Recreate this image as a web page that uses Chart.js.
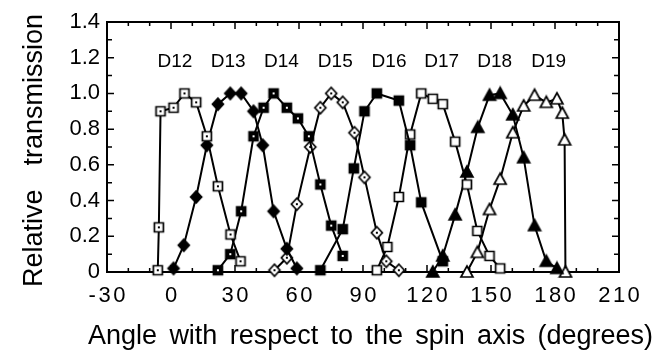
<!DOCTYPE html>
<html>
<head>
<meta charset="utf-8">
<script src="https://cdn.jsdelivr.net/npm/chart.js@4/dist/chart.umd.min.js"></script>
<style>
  html, body { margin: 0; padding: 0; background: #fff; }
</style>
</head>
<body>
<canvas id="spin" width="659" height="359"></canvas>
<script>
  // Angles (degrees) and relative transmission for each detector
  const d12Angle = [-6.2, -5.7, -4.9, 1.2, 6.3, 11.8, 16.8, 22.0, 27.9, 32.6];
  const d12Trans = [0.01, 0.25, 0.90, 0.92, 1.00, 0.95, 0.76, 0.48, 0.21, 0.06];

  const d13Angle = [1.2, 6.0, 11.8, 16.8, 22.0, 27.8, 32.9, 38.7, 43.0, 48.1, 54.3, 59.0];
  const d13Trans = [0.02, 0.15, 0.42, 0.71, 0.94, 1.00, 1.00, 0.90, 0.71, 0.34, 0.13, 0.02];

  const d14Angle = [22.0, 27.8, 32.9, 38.7, 43.4, 48.1, 54.3, 59.5, 64.6, 70.0, 75.1, 80.5];
  const d14Trans = [0.01, 0.10, 0.34, 0.76, 0.92, 1.00, 0.92, 0.86, 0.76, 0.49, 0.26, 0.09];

  const d15Angle = [48.5, 54.3, 59.0, 65.3, 70.0, 75.1, 80.5, 86.0, 90.7, 96.5, 100.9, 106.8];
  const d15Trans = [0.01, 0.08, 0.38, 0.70, 0.92, 1.00, 0.95, 0.78, 0.53, 0.22, 0.06, 0.01];

  const d16Angle = [70.0, 80.5, 85.7, 90.7, 96.5, 106.8, 112.1, 117.3, 127.4];
  const d16Trans = [0.01, 0.24, 0.58, 0.90, 1.00, 0.96, 0.71, 0.39, 0.06];

  const d17Angle = [96.5, 101.4, 106.8, 112.1, 117.3, 122.7, 127.4, 133.2, 138.7, 143.6, 149.3, 154.3];
  const d17Trans = [0.01, 0.14, 0.42, 0.77, 1.00, 0.97, 0.94, 0.73, 0.49, 0.23, 0.09, 0.02];

  const d18Angle = [122.7, 127.4, 133.2, 138.7, 143.8, 149.3, 154.3, 160.2, 165.3, 170.4, 175.9, 180.9];
  const d18Trans = [0.00, 0.09, 0.32, 0.56, 0.81, 0.99, 1.00, 0.88, 0.64, 0.26, 0.06, 0.02];

  const d19Angle = [138.7, 143.6, 149.3, 154.3, 160.2, 165.3, 170.4, 175.9, 180.9, 183.4, 184.5, 184.9];
  const d19Trans = [0.00, 0.11, 0.35, 0.52, 0.78, 0.93, 0.99, 0.95, 0.97, 0.89, 0.74, 0.00];

  const detectorNames = ['D12', 'D13', 'D14', 'D15', 'D16', 'D17', 'D18', 'D19'];
  const labelAngle = [1.8, 26.8, 51.8, 77.0, 102.2, 126.9, 151.7, 177.0];
  const labelLevel = 1.18;

  const xTickLabels = [-30, 0, 30, 60, 90, 120, 150, 180, 210];

  // small canvases used as point markers
  function marker(shape, fill, dot) {
    const s = 16, c = document.createElement('canvas');
    c.width = s; c.height = s;
    const g = c.getContext('2d');
    const m = s / 2;
    g.beginPath();
    if (shape === 'square') {
      g.rect(m - 4.5, m - 4.5, 9, 9);
    } else if (shape === 'diamond') {
      g.moveTo(m, m - 6); g.lineTo(m + 5.5, m); g.lineTo(m, m + 6); g.lineTo(m - 5.5, m); g.closePath();
    } else {
      g.moveTo(m, m - 6); g.lineTo(m + 6, m + 5); g.lineTo(m - 6, m + 5); g.closePath();
    }
    g.fillStyle = fill;
    g.fill();
    g.lineWidth = 1.7;
    g.strokeStyle = '#000';
    g.stroke();
    if (dot) {
      g.fillStyle = dot;
      g.fillRect(m - 1, m - 1, 2, 2);
    }
    return c;
  }

  const markers = [
    marker('square', '#fff', '#000'),   // D12
    marker('diamond', '#000'),          // D13
    marker('square', '#000', '#fff'),   // D14
    marker('diamond', '#fff', '#000'),  // D15
    marker('square', '#000'),           // D16
    marker('square', '#fff'),           // D17
    marker('triangle', '#000'),         // D18
    marker('triangle', '#fff')          // D19
  ];

  const angles = [d12Angle, d13Angle, d14Angle, d15Angle, d16Angle, d17Angle, d18Angle, d19Angle];
  const trans = [d12Trans, d13Trans, d14Trans, d15Trans, d16Trans, d17Trans, d18Trans, d19Trans];

  const datasets = detectorNames.map((name, k) => ({
    label: name,
    data: angles[k].map((a, i) => ({ x: a, y: trans[k][i] })),
    showLine: true,
    borderColor: '#000',
    borderWidth: 2,
    pointStyle: markers[k],
    pointRadius: 5,
    clip: false
  }));

  const FONT = '"Liberation Sans", Arial, sans-serif';

  // frame with inward ticks, drawn under the data
  const framePlugin = {
    id: 'frame',
    beforeDatasetsDraw(chart) {
      const { ctx, chartArea: a, scales: { x, y } } = chart;
      ctx.save();
      ctx.strokeStyle = '#000';
      ctx.lineWidth = 2;
      ctx.strokeRect(a.left, a.top, a.right - a.left, a.bottom - a.top);
      ctx.lineWidth = 1.5;
      ctx.beginPath();
      x.ticks.forEach(t => {
        const px = x.getPixelForValue(t.value);
        const len = Math.round(t.value) % 30 === 0 ? 7 : 4;
        ctx.moveTo(px, a.top); ctx.lineTo(px, a.top + len);
        ctx.moveTo(px, a.bottom); ctx.lineTo(px, a.bottom - len);
      });
      y.ticks.forEach(t => {
        const py = y.getPixelForValue(t.value);
        const len = Math.round(t.value * 10) % 2 === 0 ? 7 : 5;
        ctx.moveTo(a.left, py); ctx.lineTo(a.left + len, py);
        ctx.moveTo(a.right, py); ctx.lineTo(a.right - len, py);
      });
      ctx.stroke();
      ctx.restore();
    },
    afterDraw(chart) {
      const { ctx, chartArea: a, scales: { x, y } } = chart;
      ctx.save();
      ctx.fillStyle = '#000';

      // detector names
      ctx.font = '19px ' + FONT;
      ctx.textAlign = 'center';
      ctx.textBaseline = 'middle';
      detectorNames.forEach((n, i) => {
        ctx.fillText(n, x.getPixelForValue(labelAngle[i]), y.getPixelForValue(labelLevel));
      });

      // x tick labels, spaced out like the original
      ctx.font = '22px ' + FONT;
      ctx.letterSpacing = '2.5px';
      ctx.textBaseline = 'alphabetic';
      xTickLabels.forEach(v => {
        ctx.fillText(String(v), x.getPixelForValue(v) + 1.25, a.bottom + 30);
      });
      ctx.letterSpacing = '0px';

      // x axis title
      ctx.font = '27px ' + FONT;
      ctx.textAlign = 'left';
      const xTitle = 'Angle with respect to the spin axis (degrees)';
      const w0 = ctx.measureText(xTitle).width;
      const extra = Math.max(0, (565 - w0) / 7);
      ctx.wordSpacing = extra + 'px';
      ctx.fillText(xTitle, 88, 344);
      ctx.wordSpacing = '0px';

      // y axis title
      ctx.translate(42, 287);
      ctx.rotate(-Math.PI / 2);
      ctx.fillText('Relative', 0, 0);
      const tw = ctx.measureText('transmission').width;
      ctx.fillText('transmission', 273 - tw, 0);
      ctx.restore();
    }
  };

  const ctx = document.getElementById('spin').getContext('2d');

  new Chart(ctx, {
    type: 'scatter',
    data: { datasets },
    options: {
      responsive: false,
      animation: false,
      layout: { padding: { top: 22, right: 40, left: 0, bottom: 0 } },
      plugins: { legend: { display: false }, tooltip: { enabled: false } },
      scales: {
        x: {
          type: 'linear',
          min: -30,
          max: 210,
          ticks: { stepSize: 10, display: false, autoSkip: false },
          grid: { display: false, drawTicks: false },
          border: { display: false },
          afterFit: s => { s.height = 87; }
        },
        y: {
          min: 0,
          max: 1.4,
          ticks: {
            stepSize: 0.1,
            autoSkip: false,
            padding: 7,
            color: '#000',
            font: { size: 22, family: FONT },
            callback: v => {
              const k = Math.round(v * 10);
              if (k % 2 !== 0) return '';
              return k === 0 ? '0' : (k / 10).toFixed(1);
            }
          },
          grid: { display: false, drawTicks: false },
          border: { display: false },
          afterFit: s => { s.width = 107; }
        }
      }
    },
    plugins: [framePlugin]
  });
</script>
</body>
</html>
